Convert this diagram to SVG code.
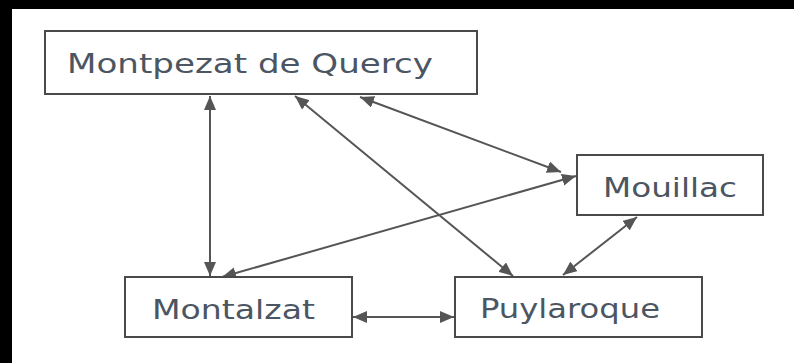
<svg xmlns="http://www.w3.org/2000/svg" width="794" height="363" viewBox="0 0 794 363">
<style>
.box{fill:#ffffff;stroke:#4a4a4a;stroke-width:2}
.lbl{font-family:"DejaVu Sans","Liberation Sans",sans-serif;font-size:26px;fill:#4c5662}
.edge{stroke:#555555;stroke-width:2;fill:none;marker-start:url(#ah);marker-end:url(#ah)}
</style>
<defs>
<marker id="ah" markerUnits="userSpaceOnUse" markerWidth="16" markerHeight="12" refX="14" refY="6" orient="auto-start-reverse">
<path d="M0,0 L14,6 L0,12 Z" fill="#555555"/>
</marker>
</defs>
<rect x="0" y="0" width="794" height="363" fill="#ffffff"/>
<rect x="0" y="0" width="794" height="9" fill="#000000"/>
<rect x="0" y="0" width="12" height="363" fill="#000000"/>
<g id="connectors">
<line class="edge" x1="210" y1="96" x2="210" y2="276"/>
<line class="edge" x1="295" y1="96" x2="513" y2="276"/>
<line class="edge" x1="360" y1="97" x2="561" y2="172"/>
<line class="edge" x1="576" y1="176" x2="222" y2="277"/>
<line class="edge" x1="353" y1="317" x2="454" y2="317"/>
<line class="edge" x1="637" y1="217" x2="563" y2="275"/>
</g>
<g id="montpezat">
<rect class="box" x="45" y="31" width="432" height="63"/>
<text class="lbl" x="67" y="73" textLength="366" lengthAdjust="spacingAndGlyphs">Montpezat de Quercy</text>
</g>
<g id="mouillac">
<rect class="box" x="577" y="155" width="186" height="60"/>
<text class="lbl" x="603" y="197" textLength="134" lengthAdjust="spacingAndGlyphs">Mouillac</text>
</g>
<g id="montalzat">
<rect class="box" x="125" y="277" width="227" height="60"/>
<text class="lbl" x="152" y="319" textLength="163" lengthAdjust="spacingAndGlyphs">Montalzat</text>
</g>
<g id="puylaroque">
<rect class="box" x="455" y="277" width="247" height="60"/>
<text class="lbl" x="480" y="318" textLength="180" lengthAdjust="spacingAndGlyphs">Puylaroque</text>
</g>
</svg>
